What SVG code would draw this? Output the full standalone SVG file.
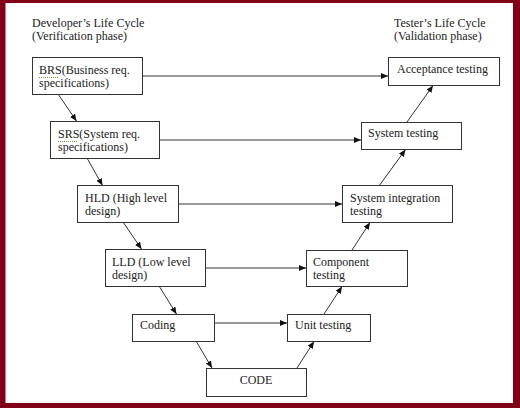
<svg xmlns="http://www.w3.org/2000/svg" width="520" height="408" viewBox="0 0 520 408">
<defs>
<marker id="ah" markerUnits="userSpaceOnUse" markerWidth="8" markerHeight="7" refX="7" refY="3" orient="auto">
<path d="M0,0 L7,3 L0,6 z" fill="#111"/>
</marker>
<style>
text{font-family:"Liberation Serif","Times New Roman",serif;font-size:12px;fill:#222}
.box{fill:#fff;stroke:#333;stroke-width:1}
.c{fill:none;stroke:#333;stroke-width:1;marker-end:url(#ah)}
.sq{fill:none;stroke:#6a9a3a;stroke-width:1;stroke-dasharray:1,1}
</style>
</defs>
<rect x="0" y="0" width="520" height="408" fill="#820016"/>
<rect x="5.5" y="3" width="507.5" height="400" fill="#fff"/>

<g id="headers">
<text x="32" y="27">Developer’s Life Cycle</text>
<text x="32" y="40">(Verification phase)</text>
<text x="394" y="27">Tester’s Life Cycle</text>
<text x="394" y="40">(Validation phase)</text>
</g>

<g id="connectors">
<line class="c" x1="58" y1="94" x2="76.5" y2="121"/>
<line class="c" x1="87" y1="158" x2="102.5" y2="185.5"/>
<line class="c" x1="123" y1="222" x2="141.5" y2="249"/>
<line class="c" x1="159" y1="286" x2="176.5" y2="314"/>
<line class="c" x1="196" y1="341" x2="212" y2="368"/>
<line class="c" x1="297" y1="368" x2="314" y2="341.5"/>
<line class="c" x1="324" y1="314" x2="342" y2="286.5"/>
<line class="c" x1="352" y1="250" x2="370" y2="222.5"/>
<line class="c" x1="379" y1="186" x2="405.5" y2="149.5"/>
<line class="c" x1="407" y1="122" x2="433" y2="85.5"/>
<line class="c" x1="142" y1="76" x2="388" y2="76"/>
<line class="c" x1="159" y1="140" x2="361" y2="140"/>
<line class="c" x1="178" y1="204" x2="342" y2="204"/>
<line class="c" x1="205" y1="268" x2="306" y2="268"/>
<line class="c" x1="214" y1="323" x2="287" y2="323"/>
</g>

<g id="brs">
<rect class="box" x="32.5" y="57.5" width="110" height="37"/>
<text x="39" y="74">BRS(Business req.</text>
<text x="39" y="87">specifications)</text>
<path class="sq" d="M39,77.5 L59,77.5"/>
</g>
<g id="srs">
<rect class="box" x="50.5" y="121.5" width="109" height="37"/>
<text x="58" y="138">SRS(System req.</text>
<text x="58" y="151">specifications)</text>
<path class="sq" d="M58,141.5 L78,141.5"/>
</g>
<g id="hld">
<rect class="box" x="77.5" y="185.5" width="101" height="37"/>
<text x="85" y="202">HLD (High level</text>
<text x="85" y="215">design)</text>
</g>
<g id="lld">
<rect class="box" x="105.5" y="249.5" width="100" height="37"/>
<text x="112" y="266">LLD (Low level</text>
<text x="112" y="279">design)</text>
</g>
<g id="coding">
<rect class="box" x="132.5" y="314.5" width="82" height="27"/>
<text x="140" y="329">Coding</text>
</g>
<g id="code">
<rect class="box" x="206.5" y="368.5" width="100" height="28"/>
<text x="256" y="384" text-anchor="middle">CODE</text>
</g>
<g id="unit">
<rect class="box" x="287.5" y="314.5" width="83" height="27"/>
<text x="295" y="329">Unit testing</text>
</g>
<g id="component">
<rect class="box" x="306.5" y="250.5" width="101" height="36"/>
<text x="313" y="266">Component</text>
<text x="313" y="279">testing</text>
</g>
<g id="sysint">
<rect class="box" x="342.5" y="185.5" width="110" height="37"/>
<text x="350" y="202">System integration</text>
<text x="350" y="215">testing</text>
</g>
<g id="systest">
<rect class="box" x="361.5" y="122.5" width="100" height="27"/>
<text x="368" y="137">System testing</text>
</g>
<g id="acceptance">
<rect class="box" x="388.5" y="57.5" width="111" height="28"/>
<text x="397" y="73">Acceptance testing</text>
</g>
</svg>
